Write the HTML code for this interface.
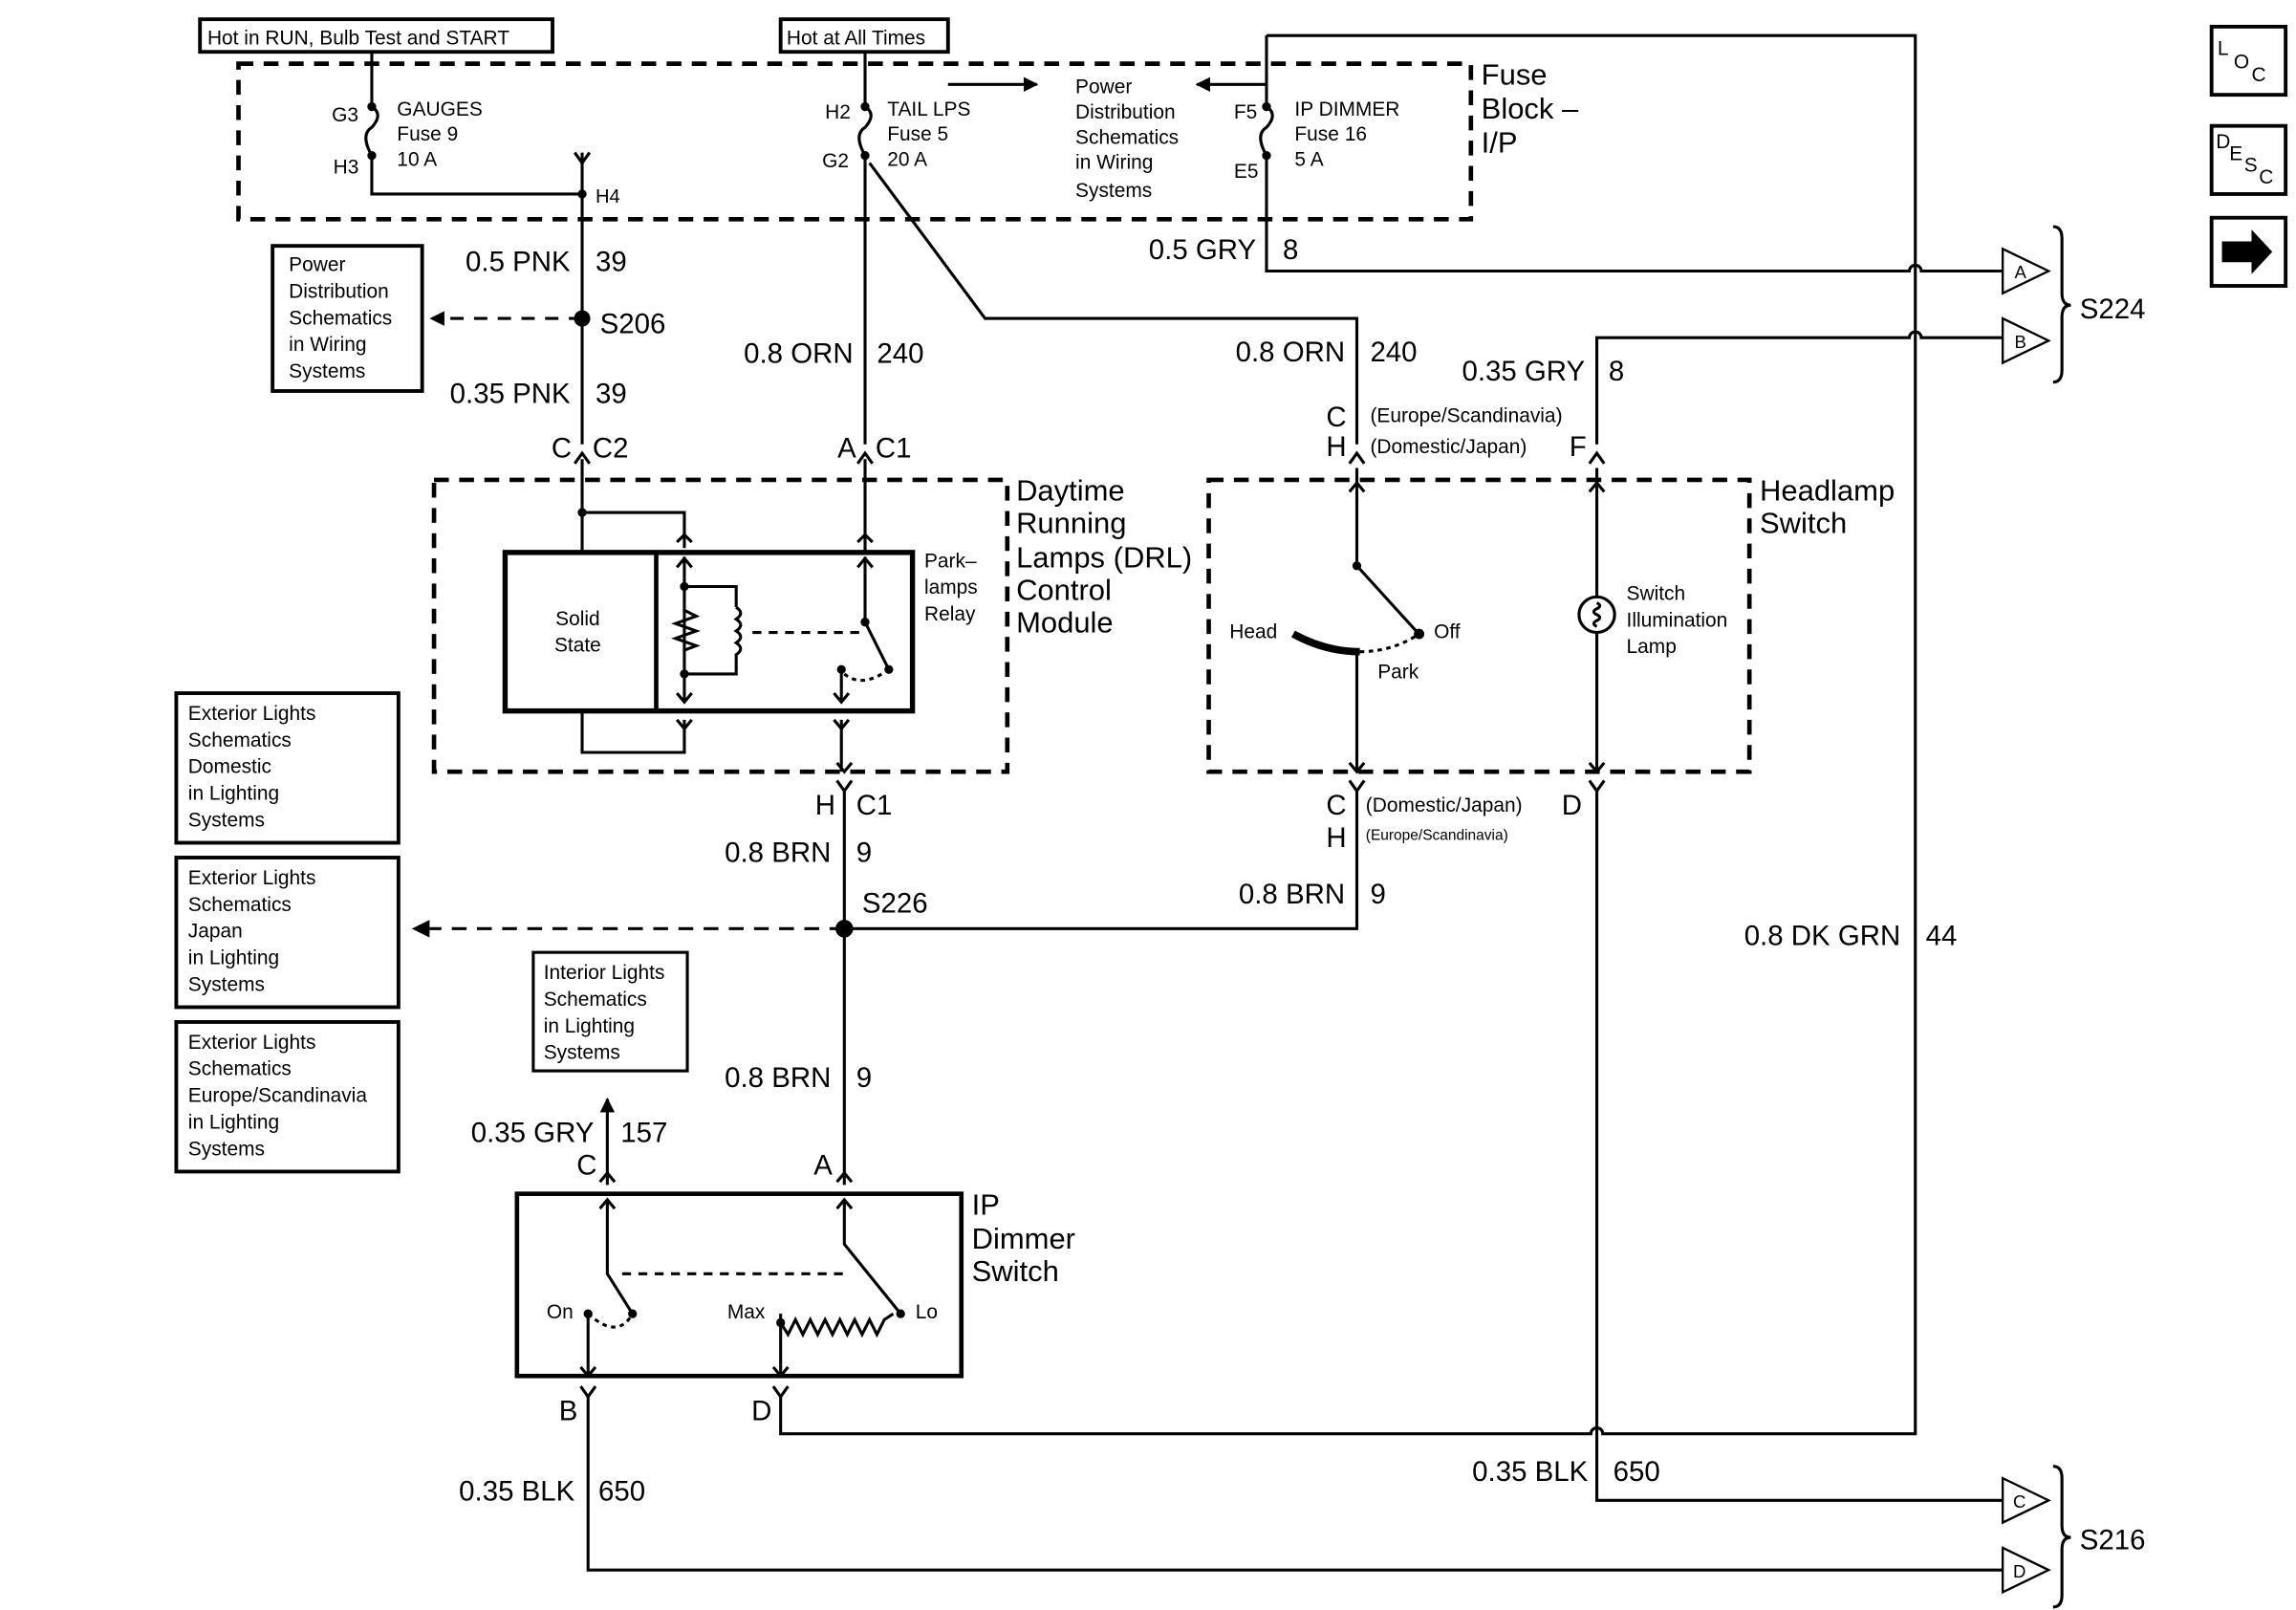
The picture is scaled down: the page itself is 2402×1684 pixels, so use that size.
<!DOCTYPE html>
<html><head><meta charset="utf-8"><style>
html,body{margin:0;padding:0;background:#fff;}
svg{display:block;}
text{font-family:"Liberation Sans",Arial,sans-serif;fill:#000;}
.s{font-size:14px}.m{font-size:19px}.l{font-size:20px}.xs{font-size:10px}.t{font-size:13.5px}
</style></head><body>
<svg width="2402" height="1684" viewBox="0 0 1550 1087" preserveAspectRatio="none" xmlns="http://www.w3.org/2000/svg">
<defs>
<marker id="ah" markerWidth="10" markerHeight="10" refX="9" refY="5" orient="auto" markerUnits="userSpaceOnUse"><path d="M0,0 L10,5 L0,10 z"/></marker>
</defs>
<g fill="none" stroke="#000" stroke-width="2">
<rect x="135" y="13" width="238" height="22" stroke-width="2.5"/>
<rect x="527" y="13" width="113" height="22" stroke-width="2.5"/>
<rect x="161" y="43" width="832" height="105" stroke-width="3" stroke-dasharray="10,7"/>
<rect x="293" y="324" width="387" height="197" stroke-width="3" stroke-dasharray="10,7"/>
<rect x="816" y="324" width="365" height="197" stroke-width="3" stroke-dasharray="10,7"/>
<rect x="184" y="166" width="101" height="98" stroke-width="2.5"/>
<rect x="119" y="468" width="150" height="101" stroke-width="2.5"/>
<rect x="119" y="579" width="150" height="101" stroke-width="2.5"/>
<rect x="119" y="690" width="150" height="101" stroke-width="2.5"/>
<rect x="360" y="643" width="104" height="80" stroke-width="2"/>
<path d="M251 35 V72 M251 105 V131 H393"/>
<path d="M251 72 q8 5 0 14 q-8 5 0 19" />
<path d="M393 103 V300 M388 103 l5 7 l5 -7"/>
<path d="M584 35 V72 M584 72 q8 5 0 14 q-8 5 0 19 V300"/>
<path d="M587 110 L665 215 H916 V300"/>
<path d="M855 24 H1293 V968 M855 24 V72 q8 5 0 14 q-8 5 0 19 V183 H1289 a4 4 0 0 1 8 0 H1352"/>
<path d="M1078 300 V228 H1289 a4 4 0 0 1 8 0 H1352"/>
<path d="M640 57 H700" marker-end="url(#ah)"/>
<path d="M855 57 H808" marker-end="url(#ah)"/>
<path d="M393 215 H300" stroke-dasharray="9,7"/>
<path d="M388 313 l5 -7 l5 7 M579 313 l5 -7 l5 7 M911 313 l5 -7 l5 7 M1073 313 l5 -7 l5 7"/>
<rect x="341" y="373" width="275" height="107" stroke-width="3.5"/>
<path d="M443 373 V480" stroke-width="3"/>
<path d="M393 310 V373 M393 346 H462 V370 M457 366 l5 -5 l5 5"/>
<path d="M584 310 V373 M579 366 l5 -5 l5 5"/>
<path d="M462 376 V474 M457 383 l5 -6 l5 6 M457 468 l5 6 l5 -6"/>
<path d="M462 396 H497 V410 M497 410 q6 4 0 8 q6 4 0 8 q6 4 0 8 q6 4 0 8 V455 H462"/>
<path d="M462 412 l8 4 l-14 5 l14 5 l-14 5 l14 5 l-8 3"/>
<path d="M508 427 H580" stroke-dasharray="6,5"/>
<path d="M584 376 V420 L600 452 M579 383 l5 -6 l5 6"/>
<path d="M568 452 V474 M563 468 l5 6 l5 -6"/>
<path d="M570 455 q12 10 30 -3" stroke-dasharray="3,3"/>
<path d="M393 480 V508 H462 V486 M457 486 l5 6 l5 -6"/>
<path d="M568 486 V521 M563 486 l5 6 l5 -6 M565 515 l5 6 l5 -6"/>
<path d="M916 316 V382 L956 426 M911 332 l5 -6 l5 6"/>
<path d="M873 428 Q895 440 918 440" stroke-width="5"/>
<path d="M918 440 Q940 440 958 428" stroke-dasharray="3,3"/>
<path d="M916 440 V521 M911 515 l5 6 l5 -6"/>
<path d="M1078 316 V403 M1078 427 V521 M1073 332 l5 -6 l5 6 M1073 515 l5 6 l5 -6"/>
<circle cx="1078" cy="415" r="12"/>
<path d="M1078 407 q4 2 0 4 q-4 2 0 4 q4 2 0 4 q-4 2 0 4"/>
<path d="M565 527 l5 7 l5 -7 M911 527 l5 7 l5 -7 M1073 527 l5 7 l5 -7"/>
<path d="M570 534 V800 M570 627 H916 V534"/>
<path d="M570 627 H290" stroke-dasharray="10,7"/>
<path d="M1078 534 V1013 H1352"/>
<path d="M410 800 V742" marker-end="url(#ah)"/>
<rect x="349" y="806" width="300" height="123" stroke-width="3"/>
<path d="M405 798 l5 -6 l5 6 M565 798 l5 -6 l5 6"/>
<path d="M410 810 V860 L427 887 M405 816 l5 -6 l5 6"/>
<path d="M570 810 V840 L608 887 M565 816 l5 -6 l5 6"/>
<path d="M420 860 H570" stroke-dasharray="6,5"/>
<path d="M397 887 q20 18 30 0" stroke-dasharray="3,3"/>
<path d="M397 887 V929 M392 923 l5 6 l5 -6"/>
<path d="M527 887 V929 M522 923 l5 6 l5 -6"/>
<path d="M527 893 l5 8 l5 -10 l5 10 l5 -10 l5 10 l5 -10 l5 10 l5 -10 l5 10 l5 -10 l5 10 l5 -10 l5 10 l5 -10 l6 -4"/>
<path d="M392 936 l5 7 l5 -7 M522 936 l5 7 l5 -7"/>
<path d="M397 943 V1060 H1352 M527 943 V968 H1074 a4 4 0 0 1 8 0 H1294"/>
<path d="M1352 168 L1383 183 L1352 198 Z M1352 215 L1383 230 L1352 245 Z M1352 998 L1383 1013 L1352 1028 Z M1352 1045 L1383 1060 L1352 1075 Z" stroke-width="1.5"/>
<path d="M1386 153 q6 0 6 8 V198 q0 8 6 8 q-6 0 -6 8 V250 q0 8 -6 8"/>
<path d="M1386 990 q6 0 6 8 V1030 q0 8 6 8 q-6 0 -6 8 V1077 q0 8 -6 8"/>
<rect x="1493" y="18" width="50" height="46" stroke-width="2.5"/>
<rect x="1493" y="85" width="50" height="46" stroke-width="2.5"/>
<rect x="1493" y="147" width="50" height="46" stroke-width="2.5"/>
</g>
<g fill="#000">
<circle cx="251" cy="72" r="3"/><circle cx="251" cy="105" r="3"/><circle cx="393" cy="131" r="3"/>
<circle cx="584" cy="72" r="3"/><circle cx="584" cy="105" r="3"/>
<circle cx="855" cy="72" r="3"/><circle cx="855" cy="105" r="3"/>
<circle cx="393" cy="215" r="5.5"/><circle cx="570" cy="627" r="6"/>
<path d="M290 215 l10 -5 v10 z"/><path d="M278 627 l12 -6 v12 z"/>
<circle cx="393" cy="346" r="3"/><circle cx="462" cy="396" r="3"/><circle cx="462" cy="455" r="3"/>
<circle cx="584" cy="420" r="3"/><circle cx="568" cy="452" r="3"/><circle cx="600" cy="452" r="3"/>
<circle cx="916" cy="382" r="3"/><circle cx="958" cy="428" r="3.5"/>
<circle cx="397" cy="887" r="3"/><circle cx="427" cy="887" r="3"/><circle cx="608" cy="887" r="3"/><circle cx="527" cy="893" r="3"/>
<path d="M1500 163 h20 v-8 l14 15 l-14 15 v-8 h-20 z"/>
</g>
<text x="140" y="30" class="t">Hot in RUN, Bulb Test and START</text>
<text x="531" y="30" class="t">Hot at All Times</text>
<text x="224" y="82" class="t">G3</text><text x="225" y="117" class="t">H3</text>
<text x="268" y="78" class="t">GAUGES</text><text x="268" y="95" class="t">Fuse 9</text><text x="268" y="112" class="t">10 A</text>
<text x="402" y="137" class="s" style="font-size:13px">H4</text>
<text x="557" y="80" class="t">H2</text><text x="555" y="113" class="t">G2</text>
<text x="599" y="78" class="t">TAIL LPS</text><text x="599" y="95" class="t">Fuse 5</text><text x="599" y="112" class="t">20 A</text>
<text x="726" y="63" class="t">Power</text><text x="726" y="80" class="t">Distribution</text><text x="726" y="97" class="t">Schematics</text><text x="726" y="114" class="t">in Wiring</text><text x="726" y="133" class="t">Systems</text>
<text x="833" y="80" class="t">F5</text><text x="833" y="120" class="t">E5</text>
<text x="874" y="78" class="t">IP DIMMER</text><text x="874" y="95" class="t">Fuse 16</text><text x="874" y="112" class="t">5 A</text>
<text x="1000" y="57" class="l">Fuse</text><text x="1000" y="80" class="l">Block –</text><text x="1000" y="103" class="l">I/P</text>
<text x="848" y="175" class="m" text-anchor="end">0.5 GRY</text><text x="866" y="175" class="m">8</text>
<text x="385" y="183" class="m" text-anchor="end">0.5 PNK</text><text x="402" y="183" class="m">39</text>
<text x="405" y="225" class="m">S206</text>
<text x="385" y="272" class="m" text-anchor="end">0.35 PNK</text><text x="402" y="272" class="m">39</text>
<text x="195" y="183" class="t">Power</text><text x="195" y="201" class="t">Distribution</text><text x="195" y="219" class="t">Schematics</text><text x="195" y="237" class="t">in Wiring</text><text x="195" y="255" class="t">Systems</text>
<text x="576" y="245" class="m" text-anchor="end">0.8 ORN</text><text x="592" y="245" class="m">240</text>
<text x="908" y="244" class="m" text-anchor="end">0.8 ORN</text><text x="925" y="244" class="m">240</text>
<text x="1070" y="257" class="m" text-anchor="end">0.35 GRY</text><text x="1086" y="257" class="m">8</text>
<text x="1404" y="215" class="m">S224</text>
<text x="386" y="309" class="m" text-anchor="end">C</text><text x="400" y="309" class="m">C2</text>
<text x="578" y="309" class="m" text-anchor="end">A</text><text x="591" y="309" class="m">C1</text>
<text x="909" y="288" class="m" text-anchor="end">C</text><text x="909" y="308" class="m" text-anchor="end">H</text>
<text x="925" y="285" class="t">(Europe/Scandinavia)</text><text x="925" y="306" class="t">(Domestic/Japan)</text>
<text x="1071" y="308" class="m" text-anchor="end">F</text>
<text x="686" y="338" class="l">Daytime</text><text x="686" y="360" class="l">Running</text><text x="686" y="383" class="l">Lamps (DRL)</text><text x="686" y="405" class="l">Control</text><text x="686" y="427" class="l">Module</text>
<text x="390" y="422" class="t" text-anchor="middle">Solid</text><text x="390" y="440" class="t" text-anchor="middle">State</text>
<text x="624" y="383" class="t">Park–</text><text x="624" y="401" class="t">lamps</text><text x="624" y="419" class="t">Relay</text>
<text x="1188" y="338" class="l">Headlamp</text><text x="1188" y="360" class="l">Switch</text>
<text x="830" y="431" class="t">Head</text><text x="968" y="431" class="t">Off</text><text x="930" y="458" class="t">Park</text>
<text x="1098" y="405" class="t">Switch</text><text x="1098" y="423" class="t">Illumination</text><text x="1098" y="441" class="t">Lamp</text>
<text x="564" y="550" class="m" text-anchor="end">H</text><text x="578" y="550" class="m">C1</text>
<text x="909" y="550" class="m" text-anchor="end">C</text><text x="909" y="572" class="m" text-anchor="end">H</text>
<text x="922" y="548" class="t">(Domestic/Japan)</text><text x="922" y="567" class="xs">(Europe/Scandinavia)</text>
<text x="1068" y="550" class="m" text-anchor="end">D</text>
<text x="561" y="582" class="m" text-anchor="end">0.8 BRN</text><text x="578" y="582" class="m">9</text>
<text x="582" y="616" class="m">S226</text>
<text x="908" y="610" class="m" text-anchor="end">0.8 BRN</text><text x="925" y="610" class="m">9</text>
<text x="1283" y="638" class="m" text-anchor="end">0.8 DK GRN</text><text x="1300" y="638" class="m">44</text>
<text x="127" y="486" class="t">Exterior Lights</text><text x="127" y="504" class="t">Schematics</text><text x="127" y="522" class="t">Domestic</text><text x="127" y="540" class="t">in Lighting</text><text x="127" y="558" class="t">Systems</text>
<text x="127" y="597" class="t">Exterior Lights</text><text x="127" y="615" class="t">Schematics</text><text x="127" y="633" class="t">Japan</text><text x="127" y="651" class="t">in Lighting</text><text x="127" y="669" class="t">Systems</text>
<text x="127" y="708" class="t">Exterior Lights</text><text x="127" y="726" class="t">Schematics</text><text x="127" y="744" class="t">Europe/Scandinavia</text><text x="127" y="762" class="t">in Lighting</text><text x="127" y="780" class="t">Systems</text>
<text x="367" y="661" class="t">Interior Lights</text><text x="367" y="679" class="t">Schematics</text><text x="367" y="697" class="t">in Lighting</text><text x="367" y="715" class="t">Systems</text>
<text x="561" y="734" class="m" text-anchor="end">0.8 BRN</text><text x="578" y="734" class="m">9</text>
<text x="401" y="771" class="m" text-anchor="end">0.35 GRY</text><text x="419" y="771" class="m">157</text>
<text x="403" y="793" class="m" text-anchor="end">C</text><text x="562" y="793" class="m" text-anchor="end">A</text>
<text x="656" y="820" class="l">IP</text><text x="656" y="843" class="l">Dimmer</text><text x="656" y="865" class="l">Switch</text>
<text x="369" y="890" class="t">On</text><text x="491" y="890" class="t">Max</text><text x="618" y="890" class="t">Lo</text>
<text x="390" y="959" class="m" text-anchor="end">B</text><text x="521" y="959" class="m" text-anchor="end">D</text>
<text x="388" y="1013" class="m" text-anchor="end">0.35 BLK</text><text x="404" y="1013" class="m">650</text>
<text x="1072" y="1000" class="m" text-anchor="end">0.35 BLK</text><text x="1089" y="1000" class="m">650</text>
<text x="1404" y="1046" class="m">S216</text>
<text x="1360" y="188" class="t" style="font-size:12px">A</text><text x="1360" y="235" class="t" style="font-size:12px">B</text>
<text x="1359" y="1018" class="t" style="font-size:12px">C</text><text x="1359" y="1065" class="t" style="font-size:12px">D</text>
<text x="1497" y="37" class="t">L</text><text x="1508" y="46" class="t">O</text><text x="1520" y="55" class="t">C</text>
<text x="1496" y="100" class="t">D</text><text x="1505" y="108" class="t">E</text><text x="1515" y="116" class="t">S</text><text x="1525" y="124" class="t">C</text>
</svg>
</body></html>
